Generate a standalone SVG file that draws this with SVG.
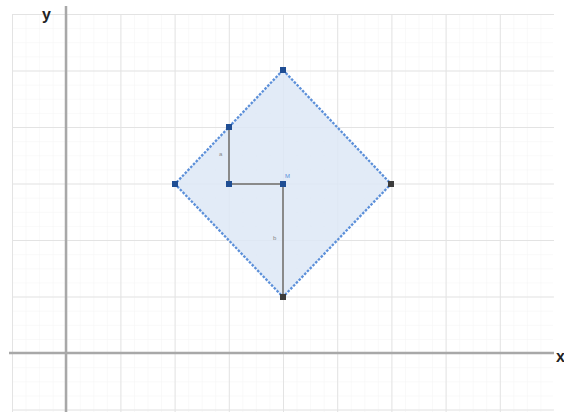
<svg xmlns="http://www.w3.org/2000/svg" width="564" height="412" viewBox="0 0 564 412">
<defs>
<pattern id="minor" x="12" y="14" width="13.55" height="14.13" patternUnits="userSpaceOnUse">
<path d="M0 0V14.13M0 0H13.55" fill="none" stroke="#f3f3f3" stroke-width="1"/>
</pattern>
<pattern id="major" x="12" y="14" width="54.2" height="56.5" patternUnits="userSpaceOnUse">
<path d="M0 0V56.5M0 0H54.2" fill="none" stroke="#e3e3e3" stroke-width="2"/>
</pattern>
</defs>
<style>
.axis{stroke:#a8a8a8;stroke-width:2.5;fill:none}
.seg{stroke:#8a8a8a;stroke-width:2;fill:none}
.pt{fill:#1f4e94}
.ptg{fill:#3c3c3c}
.lbl{font-family:"Liberation Sans",Arial,sans-serif;font-size:6px;fill:#888}
.ax{font-family:"Liberation Sans",Arial,sans-serif;font-size:16px;font-weight:bold;fill:#222}
</style>
<rect width="564" height="412" fill="#fff"/>
<rect x="12" y="14" width="541" height="398" fill="url(#minor)"/>
<rect x="12" y="14" width="542" height="398" fill="url(#major)"/>
<g id="axes">
<line class="axis" x1="66" y1="6" x2="66" y2="412"/>
<line class="axis" x1="9" y1="353" x2="554" y2="353"/>
<text class="ax" x="42" y="20">y</text>
<text class="ax" x="556" y="362">x</text>
</g>
<g id="diamond">
<polygon points="283,70 391,184 283,297 175,184" fill="#dde8f6" fill-opacity="0.85" stroke="#5b8fd9" stroke-width="2.3" stroke-dasharray="2.5 1.5"/>
</g>
<g id="connectors">
<polyline class="seg" points="229,127 229,184 283,184 283,297"/>
</g>
<g id="labels">
<text class="lbl" x="219" y="156">a</text>
<text class="lbl" x="273" y="240">b</text>
<text class="lbl" x="285" y="178" style="fill:#5b8fd9">M</text>
</g>
<g id="points">
<rect class="pt" x="280" y="67" width="6" height="6"/>
<rect class="pt" x="226" y="124" width="6" height="6"/>
<rect class="pt" x="172" y="181" width="6" height="6"/>
<rect class="pt" x="226" y="181" width="6" height="6"/>
<rect class="pt" x="280" y="181" width="6" height="6"/>
<rect class="ptg" x="388" y="181" width="6" height="6"/>
<rect class="ptg" x="280" y="294" width="6" height="6"/>
</g>
</svg>
